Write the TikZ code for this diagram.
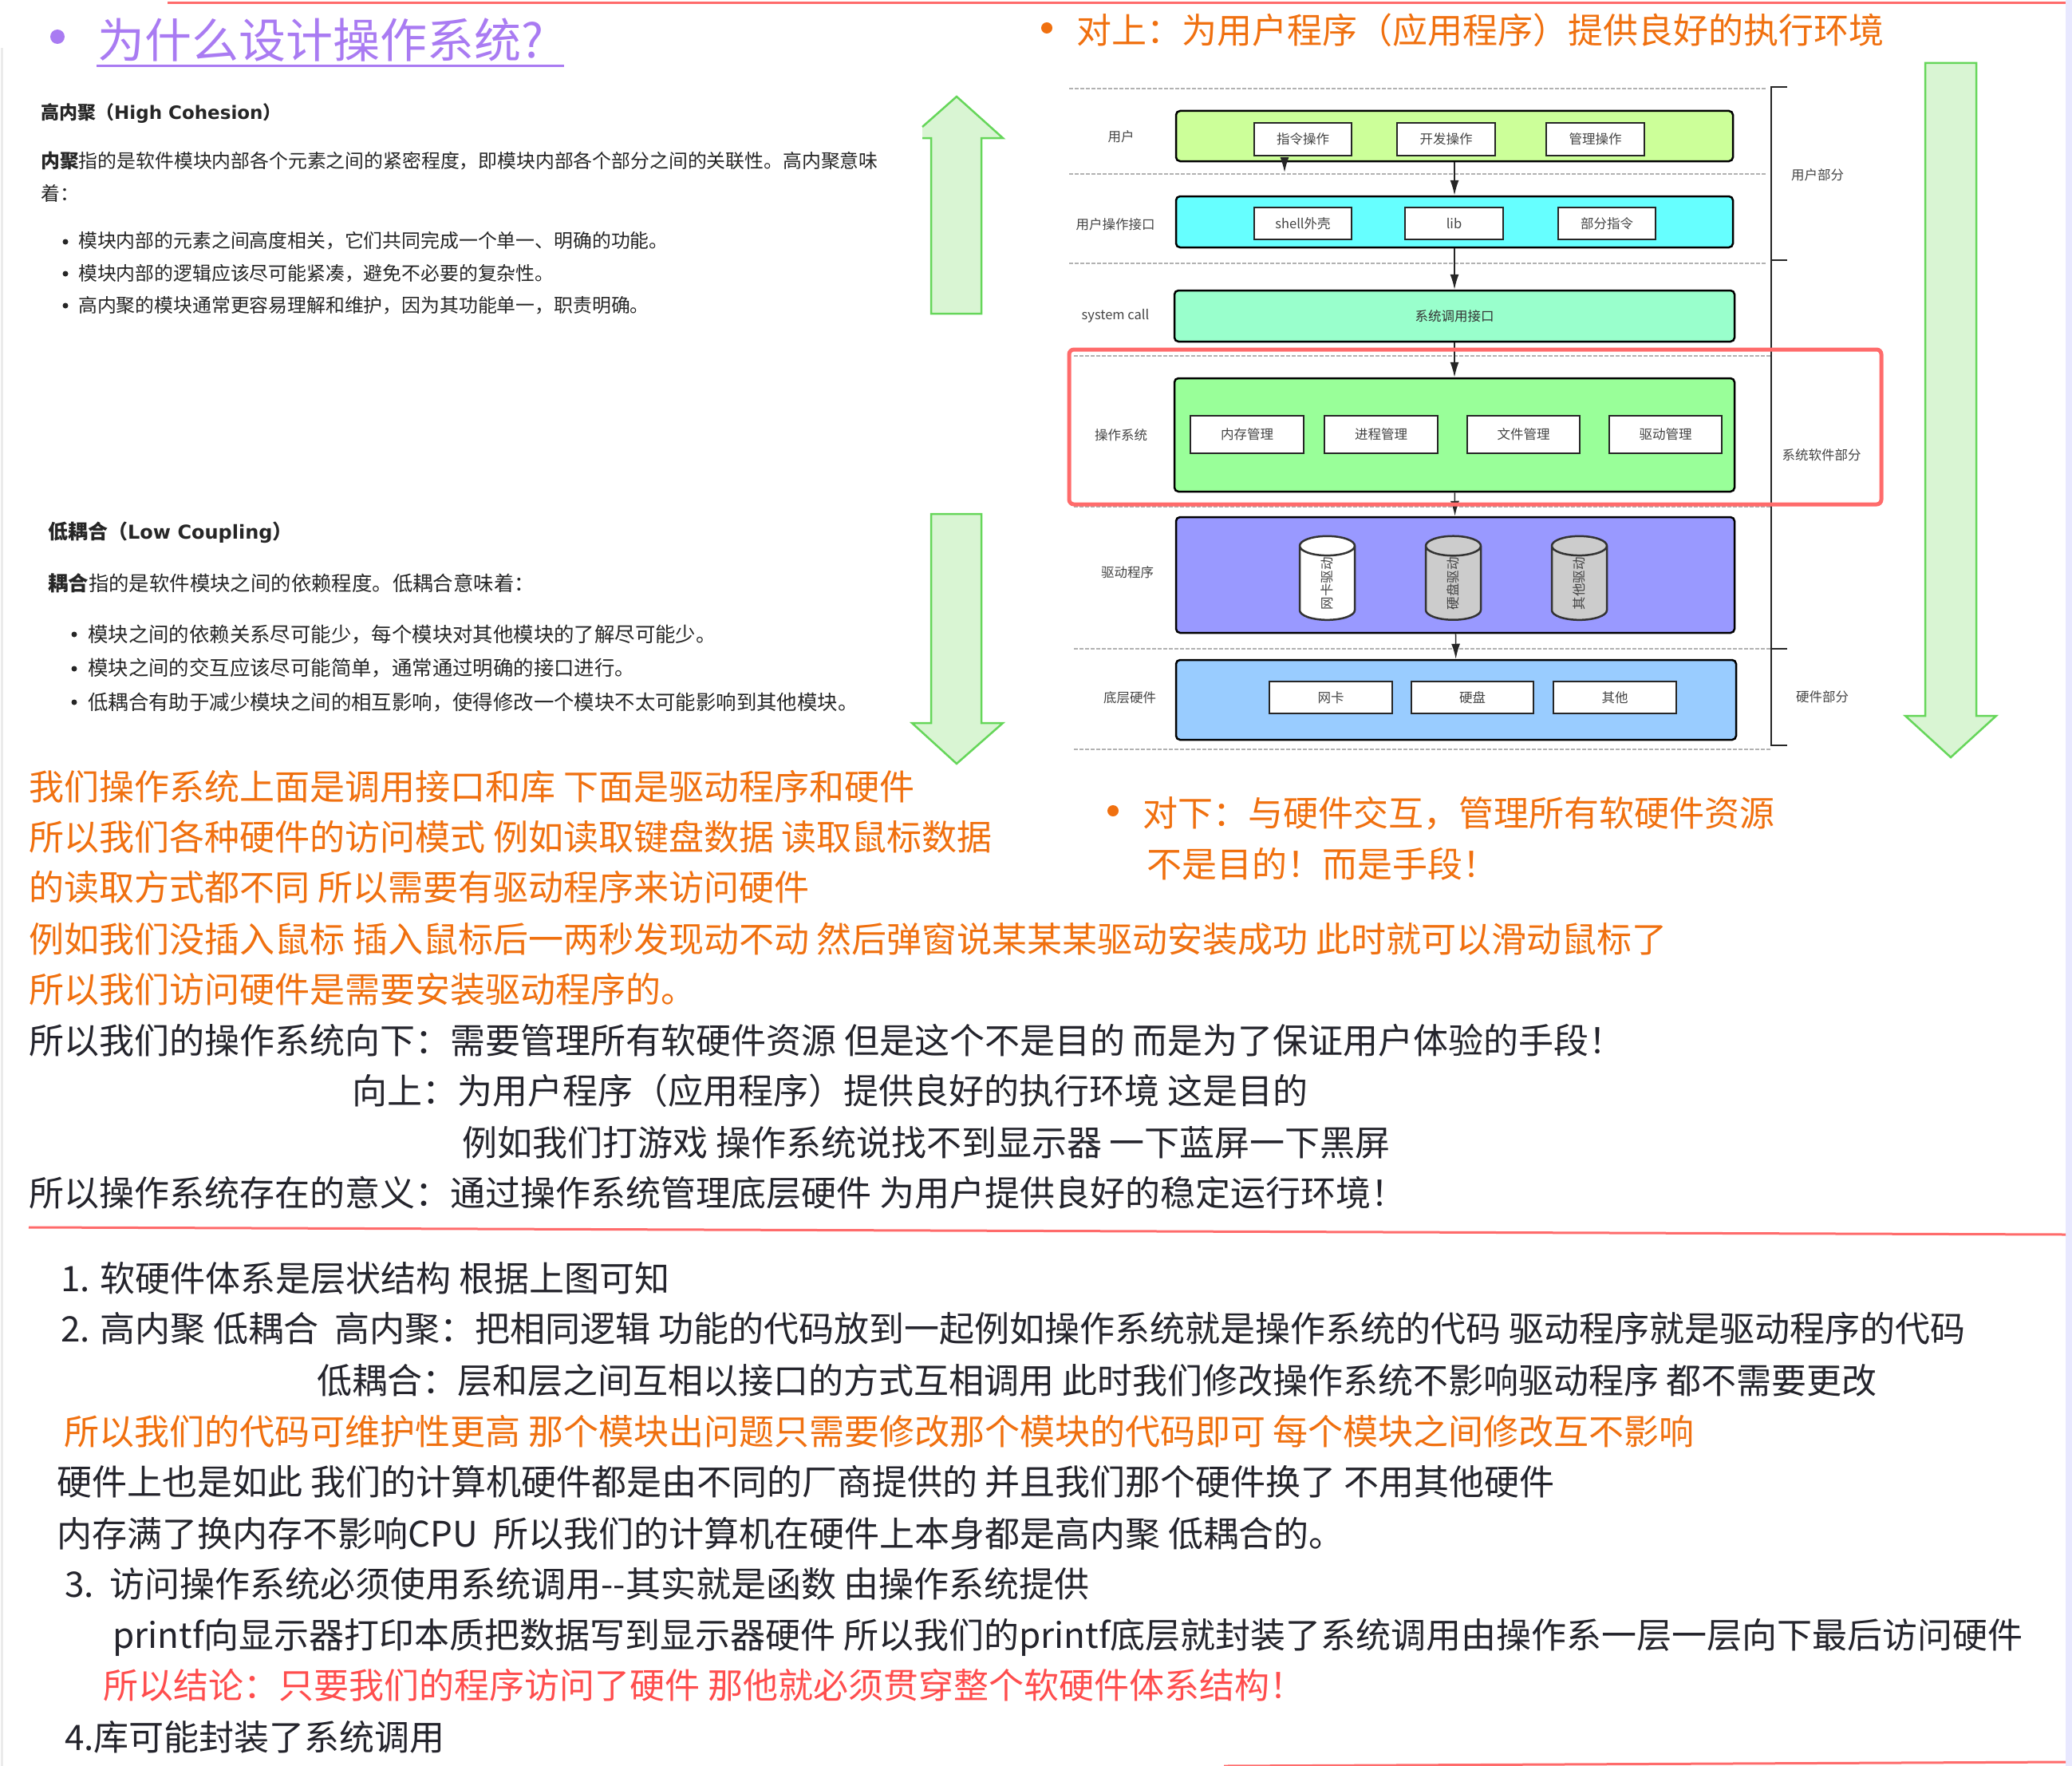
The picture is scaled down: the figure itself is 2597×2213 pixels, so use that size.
\documentclass[tikz,border=0pt]{standalone}
\usepackage{fontspec}
\setmainfont{Noto Sans CJK SC}
\newfontfamily\headfont{DejaVu Sans}
\usetikzlibrary{arrows.meta,shapes.geometric}
\definecolor{noteorange}{HTML}{F0700F}
\definecolor{notered}{HTML}{FF4D4D}
\definecolor{noteink}{HTML}{24242C}
\definecolor{notepurple}{HTML}{A97BF2}
\definecolor{framered}{HTML}{FF6B6B}
\definecolor{arrowgreen}{HTML}{66D65A}
\definecolor{arrowfill}{HTML}{D9F5D3}
\definecolor{layerlime}{HTML}{CCFF99}
\definecolor{layercyan}{HTML}{66FFFF}
\definecolor{layermint}{HTML}{99FFCC}
\definecolor{layergreen}{HTML}{99FF99}
\definecolor{layerviolet}{HTML}{9999FF}
\definecolor{layerblue}{HTML}{99CCFF}
\definecolor{drumgray}{HTML}{CCCCCC}
\definecolor{labelgray}{HTML}{444444}
\begin{document}
\begin{tikzpicture}[x=1pt, y=-1pt,
  bigtext/.style={anchor=west, inner sep=0pt, text height=45pt, text depth=11pt, font=\fontsize{44}{44}\selectfont},
  smalltext/.style={anchor=west, inner sep=0pt, text=black!85, font=\fontsize{23.85}{24}\selectfont},
  looptext/.style={smalltext, font=\fontsize{25.4}{25.4}\selectfont},
  layerbox/.style={draw=black, line width=2.5pt, rounded corners=5pt},
  opbox/.style={draw=black!85, fill=white, line width=2.5pt, inner sep=0pt, text=labelgray, font=\fontsize{16.5}{16.5}\selectfont},
  drum/.style={cylinder, draw=black!80, line width=2.5pt, rotate=90, shape aspect=1.6, minimum height=105pt, minimum width=69pt, inner sep=0pt, text=labelgray, font=\fontsize{16.5}{16.5}\selectfont},
  sidelabel/.style={inner sep=0pt, text=labelgray, font=\fontsize{16.5}{16.5}\selectfont},
  flow/.style={-{Latex[length=19pt,width=11pt]}, draw=black!85, line width=1.5pt},
  levelline/.style={draw=black!30, line width=2.5pt, dash pattern=on 5pt off 2pt},
  partline/.style={draw=black!85, line width=2.5pt},
  bigarrow/.style={draw=arrowgreen, fill=arrowfill, line width=2.5pt},
  noteline/.style={draw=framered, line width=3pt}]
  \useasboundingbox (0,0) rectangle (2597,2213);
  \fill[blue!9] (2589,0) rectangle (2597,2213);
  \draw[black!8, line width=3pt] (2,2213) -- (2,60);
  \draw[noteline] (210,4) -- (2589,4);
  \draw[noteline] (36,1538) -- (2589,1547);
  \draw[noteline] (1534,2213) -- (2589,2208);

  \fill[notepurple] (72,46) circle (9);
  \node[anchor=west, inner sep=0pt, text=notepurple, text height=61pt, text depth=15pt, font=\fontsize{59}{59}\selectfont] (title) at (122,50) {为什么设计操作系统?};
  \draw[notepurple, line width=3pt] (121,83) -- (707,83);

  \node[smalltext, font=\fontsize{23}{23}\selectfont\bfseries] (cohesionhead) at (51,142) {高内聚（{\headfont\fontsize{23}{23}\selectfont High Cohesion}）};
  \node[smalltext] (cohesionpara) at (51,202) {\textbf{内聚}指的是软件模块内部各个元素之间的紧密程度，即模块内部各个部分之间的关联性。高内聚意味};
  \node[smalltext] (cohesionmore) at (51,242) {着：};
  \node[smalltext] (cohesionone) at (98,302) {模块内部的元素之间高度相关，它们共同完成一个单一、明确的功能。};
  \node[smalltext] (cohesiontwo) at (98,343) {模块内部的逻辑应该尽可能紧凑，避免不必要的复杂性。};
  \node[smalltext] (cohesionthree) at (98,383) {高内聚的模块通常更容易理解和维护，因为其功能单一，职责明确。};
  \fill[black!85] (82,303) circle (3.5);
  \fill[black!85] (82,343) circle (3.5);
  \fill[black!85] (82,383) circle (3.5);

  \node[looptext, font=\fontsize{25}{25}\selectfont\bfseries] (couplinghead) at (60,667) {低耦合（{\headfont\fontsize{24}{24}\selectfont Low Coupling}）};
  \node[looptext] (couplingpara) at (60,731) {\textbf{耦合}指的是软件模块之间的依赖程度。低耦合意味着：};
  \node[looptext] (couplingone) at (110,795) {模块之间的依赖关系尽可能少，每个模块对其他模块的了解尽可能少。};
  \node[looptext] (couplingtwo) at (110,837) {模块之间的交互应该尽可能简单，通常通过明确的接口进行。};
  \node[looptext] (couplingthree) at (110,880) {低耦合有助于减少模块之间的相互影响，使得修改一个模块不太可能影响到其他模块。};
  \fill[black!85] (93,795) circle (3.5);
  \fill[black!85] (93,838) circle (3.5);
  \fill[black!85] (93,880) circle (3.5);

  \draw[bigarrow] (1156,173) -- (1167,173) -- (1167,393) -- (1230,393) -- (1230,173) -- (1257,173) -- (1199,121) -- (1156,159);
  \draw[bigarrow] (1167,644) -- (1230,644) -- (1230,906) -- (1257,906) -- (1199,957) -- (1143,906) -- (1167,906) -- cycle;
  \draw[bigarrow] (2413,79) -- (2477,79) -- (2477,897) -- (2502,897) -- (2445,949) -- (2388,897) -- (2413,897) -- cycle;

  \fill[noteorange] (1312,35) circle (7);
  \node[bigtext, text=noteorange] (upnote) at (1349,38) {对上：为用户程序（应用程序）提供良好的执行环境};
  \fill[noteorange] (1395,1016) circle (7);
  \node[bigtext, text=noteorange] (downnote) at (1432,1018) {对下：与硬件交互，管理所有软硬件资源};
  \node[bigtext, text=noteorange] (downmore) at (1437,1082) {不是目的！而是手段！};

  \draw[levelline] (1340,111) -- (2214,111);
  \draw[levelline] (1340,218) -- (2214,218);
  \draw[levelline] (1340,330) -- (2214,330);
  \draw[levelline] (1346,446) -- (2220,446);
  \draw[levelline] (1346,635) -- (2220,635);
  \draw[levelline] (1346,813) -- (2220,813);
  \draw[levelline] (1346,939) -- (2220,939);

  \draw[partline] (2240,109) -- (2220,109) -- (2220,934) -- (2240,934);
  \draw[partline] (2220,326) -- (2240,326);
  \draw[partline] (2220,813) -- (2240,813);

  \node[layerbox, fill=layerlime, minimum width=698pt, minimum height=63pt] (user) at (1823,170.5) {};
  \node[opbox, minimum width=122pt, minimum height=41pt] (cmdop) at (1633,174.5) {指令操作};
  \node[opbox, minimum width=123pt, minimum height=41pt] (devop) at (1812.5,174.5) {开发操作};
  \node[opbox, minimum width=123pt, minimum height=41pt] (adminop) at (1999.5,174.5) {管理操作};

  \node[layerbox, fill=layercyan, minimum width=698pt, minimum height=64pt] (userapi) at (1823,278) {};
  \node[opbox, minimum width=122pt, minimum height=40pt] (shellop) at (1633,280) {shell外壳};
  \node[opbox, minimum width=123pt, minimum height=40pt] (libop) at (1822.5,280) {lib};
  \node[opbox, minimum width=122pt, minimum height=40pt] (partop) at (2014,280) {部分指令};

  \node[layerbox, fill=layermint, minimum width=702pt, minimum height=64pt] (syscall) at (1823,396) {};
  \node[sidelabel, text=black!80] (syscalltext) at (1823,396) {系统调用接口};

  \node[layerbox, fill=layergreen, minimum width=702pt, minimum height=142pt] (kernel) at (1823,545) {};
  \node[opbox, minimum width=142pt, minimum height=47pt] (memop) at (1563,544.5) {内存管理};
  \node[opbox, minimum width=142pt, minimum height=47pt] (procop) at (1731,544.5) {进程管理};
  \node[opbox, minimum width=141pt, minimum height=47pt] (fileop) at (1909.5,544.5) {文件管理};
  \node[opbox, minimum width=141pt, minimum height=47pt] (driveop) at (2087.5,544.5) {驱动管理};

  \node[layerbox, fill=layerviolet, minimum width=700pt, minimum height=145pt] (driver) at (1824,720.5) {};
  \node[drum, fill=white] (netdrum) at (1663.5,731) {网卡驱动};
  \node[drum, fill=drumgray] (diskdrum) at (1821.5,731) {硬盘驱动};
  \node[drum, fill=drumgray] (otherdrum) at (1979.5,731) {其他驱动};

  \node[layerbox, fill=layerblue, minimum width=702pt, minimum height=100pt] (hardware) at (1825,877) {};
  \node[opbox, minimum width=154pt, minimum height=40pt] (netop) at (1668,874) {网卡};
  \node[opbox, minimum width=153pt, minimum height=40pt] (diskop) at (1845.5,874) {硬盘};
  \node[opbox, minimum width=154pt, minimum height=40pt] (otherop) at (2024,874) {其他};

  \coordinate (usertip) at (1610,216);
  \draw[flow] (user.south -| usertip) -- (usertip);
  \draw[flow] (user) -- (userapi);
  \draw[flow] (userapi) -- (syscall);
  \draw[flow] (syscall) -- (kernel);
  \draw[flow] (kernel) -- (driver);
  \draw[flow] (driver) -- (hardware);

  \node[sidelabel] (userlabel) at (1405,171) {用户};
  \node[sidelabel] (apilabel) at (1398,281) {用户操作接口};
  \node[sidelabel] (calllabel) at (1398,396) {system call};
  \node[sidelabel] (kernellabel) at (1405,545) {操作系统};
  \node[sidelabel] (driverlabel) at (1413,717) {驱动程序};
  \node[sidelabel] (hardlabel) at (1416,874) {底层硬件};
  \node[sidelabel] (userpart) at (2278,219) {用户部分};
  \node[sidelabel] (softpart) at (2283,570) {系统软件部分};
  \node[sidelabel] (hardpart) at (2284,873) {硬件部分};

  \draw[framered, line width=5pt, rounded corners=6pt] (1340,438) rectangle (2358,632);

  \node[bigtext, text=noteorange] (lineA) at (36,985) {我们操作系统上面是调用接口和库 下面是驱动程序和硬件};
  \node[bigtext, text=noteorange] (lineB) at (36,1048) {所以我们各种硬件的访问模式 例如读取键盘数据 读取鼠标数据};
  \node[bigtext, text=noteorange] (lineC) at (36,1111) {的读取方式都不同 所以需要有驱动程序来访问硬件};
  \node[bigtext, text=noteorange] (lineD) at (36,1176) {例如我们没插入鼠标 插入鼠标后一两秒发现动不动 然后弹窗说某某某驱动安装成功 此时就可以滑动鼠标了};
  \node[bigtext, text=noteorange] (lineE) at (36,1239) {所以我们访问硬件是需要安装驱动程序的。};
  \node[bigtext, text=noteink] (lineF) at (36,1303) {所以我们的操作系统向下：需要管理所有软硬件资源 但是这个不是目的 而是为了保证用户体验的手段！};
  \node[bigtext, text=noteink] (lineG) at (441,1366) {向上：为用户程序（应用程序）提供良好的执行环境 这是目的};
  \node[bigtext, text=noteink] (lineH) at (579,1431) {例如我们打游戏 操作系统说找不到显示器 一下蓝屏一下黑屏};
  \node[bigtext, text=noteink] (lineI) at (36,1494) {所以操作系统存在的意义：通过操作系统管理底层硬件 为用户提供良好的稳定运行环境！};

  \node[bigtext, text=noteink] (itemA) at (76,1601) {1. 软硬件体系是层状结构 根据上图可知};
  \node[bigtext, text=noteink] (itemB) at (76,1664) {2. 高内聚 低耦合\ \ 高内聚：把相同逻辑 功能的代码放到一起例如操作系统就是操作系统的代码 驱动程序就是驱动程序的代码};
  \node[bigtext, text=noteink] (itemC) at (397,1729) {低耦合：层和层之间互相以接口的方式互相调用 此时我们修改操作系统不影响驱动程序 都不需要更改};
  \node[bigtext, text=noteorange] (itemD) at (80,1793) {所以我们的代码可维护性更高 那个模块出问题只需要修改那个模块的代码即可 每个模块之间修改互不影响};
  \node[bigtext, text=noteink] (itemE) at (71,1856) {硬件上也是如此 我们的计算机硬件都是由不同的厂商提供的 并且我们那个硬件换了 不用其他硬件};
  \node[bigtext, text=noteink] (itemF) at (71,1921) {内存满了换内存不影响CPU\ \ 所以我们的计算机在硬件上本身都是高内聚 低耦合的。};
  \node[bigtext, text=noteink] (itemG) at (81,1984) {3.\ \ 访问操作系统必须使用系统调用-{}-其实就是函数 由操作系统提供};
  \node[bigtext, text=noteink] (itemH) at (141,2048) {printf向显示器打印本质把数据写到显示器硬件 所以我们的printf底层就封装了系统调用由操作系一层一层向下最后访问硬件};
  \node[bigtext, text=notered] (itemI) at (129,2111) {所以结论：只要我们的程序访问了硬件 那他就必须贯穿整个软硬件体系结构！};
  \node[bigtext, text=noteink] (itemJ) at (81,2176) {4.库可能封装了系统调用};
\end{tikzpicture}
\end{document}
